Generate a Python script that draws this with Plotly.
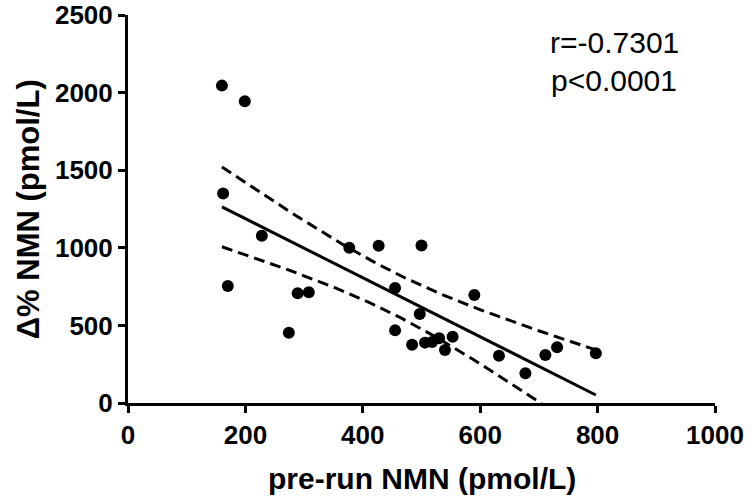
import numpy as np
import plotly.graph_objects as go

pre_run_nmn = [160, 199, 162, 228, 170, 289, 308, 274, 377, 427, 500, 455, 455,
               484, 497, 590, 506, 518, 530, 553, 540, 632, 677, 711, 731, 797]
delta_nmn = [2045, 1945, 1350, 1078, 754, 707, 713, 453, 1000, 1013, 1015, 741, 468,
             375, 573, 696, 389, 393, 417, 427, 341, 305, 191, 309, 359, 320]
x_ticks = [0, 200, 400, 600, 800, 1000]
y_ticks = [0, 500, 1000, 1500, 2000, 2500]
stats_text = ["r=-0.7301", "p<0.0001"]
x_title = "pre-run NMN (pmol/L)"
y_title = "Δ% NMN (pmol/L)"
T_CRIT = 2.064  # t(0.975, df=24)

x = np.array(pre_run_nmn, float)
y = np.array(delta_nmn, float)
n = len(x)
slope, intercept = np.polyfit(x, y, 1)
xf = np.linspace(x.min(), x.max(), 200)
yf = intercept + slope * xf
resid = y - (intercept + slope * x)
s = np.sqrt(np.sum(resid ** 2) / (n - 2))
sxx = np.sum((x - x.mean()) ** 2)
se = s * np.sqrt(1.0 / n + (xf - x.mean()) ** 2 / sxx)
upper = yf + T_CRIT * se
lower = yf - T_CRIT * se

FONT = "Liberation Sans, Arial, sans-serif"
fig = go.Figure()
for band in (upper, lower):
    fig.add_trace(go.Scatter(x=xf, y=band, mode="lines",
                             line=dict(color="black", width=3, dash="11px,6px"),
                             hoverinfo="skip", showlegend=False))
fig.add_trace(go.Scatter(x=xf, y=yf, mode="lines",
                         line=dict(color="black", width=3), showlegend=False))
fig.add_trace(go.Scatter(x=pre_run_nmn, y=delta_nmn, mode="markers",
                         marker=dict(color="black", size=12), showlegend=False,
                         cliponaxis=False))

# stats text
fig.add_annotation(x=0.828, y=0.928, xref="paper", yref="paper", text=stats_text[0],
                   showarrow=False, font=dict(family=FONT, size=30, color="black"),
                   xanchor="center", yanchor="middle")
fig.add_annotation(x=0.828, y=0.832, xref="paper", yref="paper", text=stats_text[1],
                   showarrow=False, font=dict(family=FONT, size=30, color="black"),
                   xanchor="center", yanchor="middle")
# axis titles
fig.add_annotation(x=0.5, y=-0.195, xref="paper", yref="paper", text="<b>%s</b>" % x_title,
                   showarrow=False, font=dict(family=FONT, size=30, color="black"),
                   xanchor="center", yanchor="middle")
fig.add_annotation(x=-0.17, y=0.5, xref="paper", yref="paper", text="<b>%s</b>" % y_title,
                   showarrow=False, font=dict(family=FONT, size=31, color="black"),
                   xanchor="center", yanchor="middle", textangle=-90)

axis_common = dict(showline=True, linewidth=3, linecolor="black", ticks="outside",
                   ticklen=7, tickwidth=3, tickcolor="black", showgrid=False,
                   zeroline=False, mirror=False, automargin=False,
                   ticklabeloverflow="allow",
                   tickfont=dict(family=FONT, size=26, color="black", weight="bold"))
fig.update_xaxes(range=[0, 1000], tickvals=x_ticks, **axis_common)
fig.update_yaxes(range=[0, 2500], tickvals=y_ticks, **axis_common)
fig.update_layout(width=755, height=497, plot_bgcolor="white", paper_bgcolor="white",
                  margin=dict(l=128, r=40, t=15, b=94), hovermode=False)
fig.write_html("out.html", config={"displayModeBar": False},
               post_script="document.body.style.margin='0px';document.body.style.overflow='hidden';")
